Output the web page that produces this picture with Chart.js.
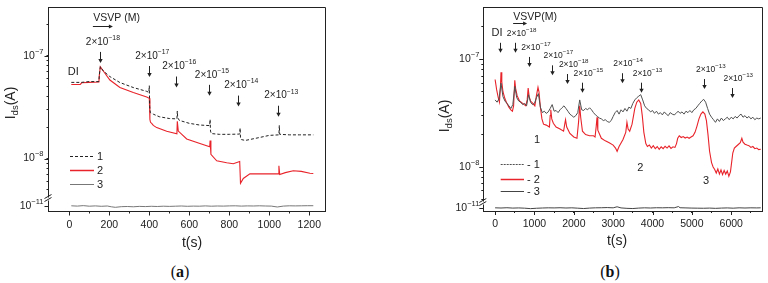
<!DOCTYPE html>
<html>
<head>
<meta charset="utf-8">
<script src="https://cdn.jsdelivr.net/npm/chart.js@4.4.0/dist/chart.umd.min.js"></script>
<style>
  body { margin: 0; background: #fff; width: 768px; height: 283px; overflow: hidden; position: relative; }
  .panel { position: absolute; top: 0; width: 384px; height: 258px; }
  .cap { position: absolute; top: 263px; width: 60px; text-align: center; color: #111;
         font: 16px 'Liberation Serif', 'DejaVu Serif', serif; }
</style>
</head>
<body>
<div class="panel" style="left:0"><canvas id="chartA" width="384" height="258"></canvas></div>
<div class="panel" style="left:384px"><canvas id="chartB" width="384" height="258"></canvas></div>
<div class="cap" style="left:150px">(<b>a</b>)</div>
<div class="cap" style="left:580px">(<b>b</b>)</div>
<script>
// ---------- panel (a) ----------
// [time s, current nA] for traces 1 and 2, [time s, current pA] for trace 3
const s1A = [[10,55],[60,55],[80,55.5],[100,56],[148,56],[150,65],[155,78],[170,71],[203,62.6],[253,54.8],
  [320,49],[387,45],[398,44],[400,51],[402,32],[405,28],[420,27],[450,25.5],[500,24.5],[538,24.3],
  [540,29],[542,25],[550,23.5],[600,22],[650,21.2],[702,20.9],[704,24],[706,18.5],[710,17.5],[750,17.2],
  [800,17.2],[852,17.3],[854,19.8],[856,16],[860,15.3],[880,15],[950,16],[1000,16.8],[1048,17],[1050,21],
  [1052,17.2],[1100,17],[1150,17],[1220,17]];
const s2A = [[10,52.5],[55,52.5],[62,54.5],[100,55],[148,55.5],[150,64],[155,78],[170,71],[203,58],[253,49],
  [320,43.8],[387,39.7],[400,38.5],[403,24],[406,22.5],[412,22],[420,21],[437,20],[487,18.4],[538,17.4],
  [540,23],[545,18.5],[587,15.5],[653,14],[702,13],[704,15],[708,11],[737,9.5],[787,9.1],[820,8.9],
  [852,9.35],[856,5.75],[870,6.4],[903,7.1],[987,7.1],[1046,7.1],[1048,8.5],[1052,7.0],[1080,7.3],[1120,7.6],
  [1160,7.5],[1203,7.2],[1220,7.15]];
const s3A = [[10,10.6],[40,10.3],[70,10.8],[100,10.2],[130,10.5],[160,10.1],[190,10.4],[210,9.6],[230,9.1],[260,9.7],
  [290,9.9],[320,9.6],[350,10.0],[380,9.8],[410,10.1],[440,9.9],[470,10.2],[500,10.0],[530,10.2],[560,10.4],
  [590,10.1],[620,10.3],[650,10.2],[680,10.5],[710,10.2],[740,10.4],[770,10.3],[800,10.5],[830,10.6],[860,10.3],
  [890,10.5],[920,10.4],[950,10.6],[980,10.4],[1010,10.3],[1040,9.4],[1070,10.3],[1100,10.6],[1130,10.5],[1160,10.6],
  [1190,10.7],[1220,10.7]];
const xTicksA = [0,100,200,300,400,500,600,700,800,900,1000,1100,1200];
const xLabelsA = [0,200,400,600,800,1000,1200];
const yTicksA = [5e-9,6e-9,7e-9,8e-9,9e-9,1e-8,2e-8,3e-8,4e-8,5e-8,6e-8,7e-8,8e-8,9e-8,1e-7,2e-7];
const yMajorA = [1e-8, 1e-7];
const arrowTA = [153, 400, 535, 698, 845, 1045];
const arrowTipA = [85, 62, 49, 40.7, 32, 25.5];   // nA
const arrowTextA = ['−18', '−17', '−16', '−15', '−14', '−13'];

// ---------- panel (b) ----------
const s1B = [[0,42],[50,40],[100,43],[150,60],[200,45],[250,41],[300,39],[350,37],[400,35],[450,38],
  [500,56],[550,44],[600,41],[650,40],[700,38],[750,39],[800,37],[850,47],[900,40],[950,38],
  [1000,39],[1050,44],[1100,48],[1150,36],[1200,32],[1250,33],[1300,31.5],[1350,32.5],[1400,35],[1450,38],
  [1500,33],[1550,33.5],[1600,32],[1650,34],[1700,35.5],[1750,37],[1800,35],[1850,33],[1900,31],[1950,30],
  [2000,29],[2050,30],[2100,32],[2150,42],[2200,34],[2250,33.5],[2300,35],[2350,34],[2400,35.5],[2450,34],
  [2500,32],[2550,30.5],[2600,29.5],[2650,28.5],[2700,28],[2750,27],[2800,27.5],[2850,26.5],[2900,26],[2950,27],
  [3000,29.5],[3050,32],[3100,33.5],[3150,31],[3200,34],[3250,32.5],[3300,35],[3350,33],[3400,36],[3450,35],
  [3500,39],[3550,42],[3600,44],[3650,45.5],[3700,47],[3750,42],[3800,37],[3850,35],[3900,34],[3950,32.5],
  [4000,33.5],[4050,31.5],[4100,33],[4150,31],[4200,32],[4250,30.5],[4300,32.5],[4350,31],[4400,30],[4450,32],
  [4500,31],[4550,30.5],[4600,31.5],[4650,33],[4700,31.5],[4750,32.5],[4800,31],[4850,33],[4900,32],[4950,33.5],
  [5000,32],[5050,34],[5100,35],[5150,37],[5200,39],[5250,41],[5300,42.5],[5350,40],[5400,35],[5450,31],
  [5500,29],[5550,27.5],[5600,26],[5650,28],[5700,26.5],[5750,28.5],[5800,27],[5850,28],[5900,29],[5950,27.5],
  [6000,29],[6050,28],[6100,29.5],[6150,28.5],[6200,30],[6250,31],[6300,29],[6350,30],[6400,28.5],[6450,29.5],
  [6500,28],[6550,29],[6600,27.5],[6650,28.5],[6700,28],[6750,28.5]];
const s2B = [[0,65],[40,52],[80,44],[110,40],[135,55],[150,76],[170,62],[200,50],[250,43],[300,39],
  [350,36],[400,34],[440,33],[470,37],[500,64],[520,54],[560,46],[620,41],[700,39],[780,37],
  [815,42],[840,54],[865,45],[900,41],[960,39],[1010,37],[1050,46],[1090,55],[1115,50],[1150,36],
  [1190,28],[1230,25],[1300,24.5],[1380,23.5],[1400,30],[1415,34],[1440,28],[1480,25.5],[1550,23.5],[1650,22.5],
  [1740,21.5],[1770,25],[1790,27.5],[1820,23.5],[1900,20.5],[2000,19],[2080,18.5],[2120,26],[2150,37],[2175,29],
  [2220,21.5],[2300,20],[2400,19.5],[2500,19.5],[2540,19],[2570,24],[2590,29],[2610,22],[2700,18.5],[2800,17.5],
  [2900,16.8],[3000,16],[3060,15],[3100,14],[3150,15.5],[3250,18],[3320,21],[3350,26],[3380,22.5],[3420,21.5],
  [3480,25],[3550,35],[3600,40],[3650,42],[3700,39],[3740,30],[3780,21],[3830,16.5],[3870,15.5],[3920,16],
  [3970,15],[4020,15.8],[4070,14.8],[4120,15.5],[4170,14.6],[4220,15.4],[4270,14.8],[4320,15.6],[4370,15],[4420,15.7],
  [4470,14.9],[4520,15.4],[4570,15.2],[4610,16.5],[4640,18.5],[4680,19.5],[4730,18.8],[4780,19.2],[4830,18.6],[4880,19],
  [4930,18.5],[4980,19],[5030,19.5],[5080,21],[5130,24],[5180,28],[5230,31],[5280,32.5],[5330,31],[5370,27],
  [5410,20],[5450,14],[5500,11],[5540,10],[5580,9.5],[5620,8.8],[5660,9.6],[5700,8.6],[5740,9.4],[5780,8.5],
  [5820,9.3],[5860,8.6],[5900,9.2],[5940,8.2],[5980,9],[6010,11],[6040,13.5],[6080,15],[6130,15.6],[6180,16.2],
  [6230,16.8],[6270,18.5],[6300,17],[6350,16.3],[6400,16],[6450,15.8],[6500,15.2],[6550,15.5],[6600,14.8],[6650,15],
  [6700,14.5],[6750,14.6]];
const s3B = [[0,10.2],[150,10],[300,10.3],[450,9.9],[600,10.1],[750,9.8],[900,9.3],[1050,9.7],[1200,10],[1350,10.2],
  [1500,10.1],[1650,10.3],[1800,10],[1950,10.2],[2100,9.8],[2250,9.4],[2400,9.9],[2550,10.2],[2700,10.3],[2850,10.5],
  [3000,10.2],[3100,11.5],[3200,10.1],[3350,9.6],[3500,9.4],[3650,9.9],[3800,10.2],[3950,10],[4100,10.3],[4250,10.2],
  [4400,10.4],[4550,10.2],[4660,11.8],[4700,10.3],[4850,10.1],[5000,9.9],[5150,9.8],[5300,9.7],[5450,9.9],[5600,9.6],
  [5750,9.9],[5900,10.1],[6050,9.8],[6200,10.2],[6350,10],[6500,10.2],[6650,10.1],[6750,10.2]];
const xTicksB = [0,500,1000,1500,2000,2500,3000,3500,4000,4500,5000,5500,6000,6500];
const xLabelsB = [0,1000,2000,3000,4000,5000,6000];
const yTicksB = [5e-9,6e-9,7e-9,8e-9,9e-9,1e-8,2e-8,3e-8,4e-8,5e-8,6e-8,7e-8,8e-8,9e-8,1e-7,2e-7];
const yMajorB = [1e-8, 1e-7];
const arrowTB = [127, 509, 873, 1443, 1832, 2206, 3214, 3707, 5318, 6013];
const arrowTipB = [115, 115, 85, 71, 59, 49, 60, 49, 53, 43.7];   // nA
const arrowTextB = ['DI', '−18', '−17', '−17', '−18', '−15', '−14', '−13', '−13', '−13'];

const yLowTicks = [1e-11];

const FONT = "'Liberation Sans', Arial, sans-serif";
const INK = '#222';
Chart.defaults.font.family = FONT;
Chart.defaults.color = INK;

function powText(ctx, x, y, base, exp, size, supSize, align) {
  ctx.font = size + 'px ' + FONT;
  const wb = ctx.measureText(base).width;
  ctx.font = supSize + 'px ' + FONT;
  const we = ctx.measureText(exp).width;
  const x0 = align === 'right' ? x - wb - we : x - (wb + we) / 2;
  ctx.textAlign = 'left';
  ctx.textBaseline = 'middle';
  ctx.font = size + 'px ' + FONT;
  ctx.fillText(base, x0, y);
  ctx.font = supSize + 'px ' + FONT;
  ctx.fillText(exp, x0 + wb, y - size * 0.4);
}

function yTitle(ctx, cx, cy, size) {
  ctx.save();
  ctx.translate(cx, cy);
  ctx.rotate(-Math.PI / 2);
  const sub = size * 0.68;
  ctx.font = size + 'px ' + FONT;
  const w1 = ctx.measureText('I').width, w3 = ctx.measureText('(A)').width;
  ctx.font = sub + 'px ' + FONT;
  const w2 = ctx.measureText('ds').width;
  let xx = -(w1 + w2 + w3) / 2;
  ctx.textAlign = 'left';
  ctx.textBaseline = 'middle';
  ctx.font = size + 'px ' + FONT;
  ctx.fillText('I', xx, 0);
  ctx.font = sub + 'px ' + FONT;
  ctx.fillText('ds', xx + w1, size * 0.3);
  ctx.font = size + 'px ' + FONT;
  ctx.fillText('(A)', xx + w1 + w2, 0);
  ctx.restore();
}

function downArrow(ctx, x, tip, len) {
  const px = Math.round(x) + 0.5;
  ctx.beginPath();
  ctx.moveTo(px, tip - len);
  ctx.lineTo(px, tip - 3);
  ctx.stroke();
  ctx.beginPath();
  ctx.moveTo(px - 2.2, tip - 4);
  ctx.lineTo(px + 2.2, tip - 4);
  ctx.lineTo(px, tip);
  ctx.closePath();
  ctx.fill();
}

function makeDeco(P) {
  return {
    id: 'deco',
    afterDraw(chart) {
      const { ctx, chartArea: a } = chart;
      const { x, y, yb } = chart.scales;
      ctx.save();
      ctx.strokeStyle = INK;
      ctx.fillStyle = INK;
      ctx.lineWidth = 1;

      // frame on top and right
      const T = Math.round(a.top) + 0.5, R = Math.round(a.right) - 0.5;
      ctx.beginPath();
      ctx.moveTo(a.left, T);
      ctx.lineTo(R, T);
      ctx.lineTo(R, a.bottom);
      ctx.stroke();

      // longer major ticks
      ctx.beginPath();
      P.xLabels.forEach(v => {
        const px = Math.round(x.getPixelForValue(v)) + 0.5;
        ctx.moveTo(px, a.bottom);
        ctx.lineTo(px, a.bottom + 4);
      });
      const majors = P.yMajor.map(v => [y, v]).concat(yLowTicks.map(v => [yb, v]));
      majors.forEach(([s, v]) => {
        const py = Math.round(s.getPixelForValue(v)) + 0.5;
        ctx.moveTo(a.left, py);
        ctx.lineTo(a.left - 4, py);
      });
      ctx.stroke();

      // y tick labels 10^n
      majors.forEach(([s, v]) => {
        const py = s.getPixelForValue(v);
        const e = '−' + Math.abs(Math.round(Math.log10(v)));
        powText(ctx, a.left - P.labGap, py, '10', e, 10.5, 7.5, 'right');
      });

      // axis break
      const yk = yb.top;
      ctx.fillStyle = '#fff';
      ctx.fillRect(a.left - 1.5, yk - 1.5, 3, 3);
      ctx.fillStyle = INK;
      ctx.beginPath();
      ctx.moveTo(a.left - 4, yk - 0.5);
      ctx.lineTo(a.left + 3, yk - 4.5);
      ctx.moveTo(a.left - 4, yk + 2.5);
      ctx.lineTo(a.left + 3, yk - 1.5);
      ctx.stroke();

      // axis titles
      yTitle(ctx, P.yTitle[0], P.yTitle[1], 14);
      ctx.font = '14px ' + FONT;
      ctx.textAlign = 'center';
      ctx.textBaseline = 'middle';
      ctx.fillText('t(s)', P.xTitle[0], P.xTitle[1]);

      // concentration arrows
      P.arrowT.forEach((t, i) => {
        const px = x.getPixelForValue(t);
        const tip = y.getPixelForValue(P.arrowTip[i] * 1e-9);
        downArrow(ctx, px, tip, P.arrowLen);
        const ty = tip - P.arrowLen - P.textGap;
        const lab = P.arrowText[i];
        if (lab === 'DI') {
          ctx.font = '11px ' + FONT;
          ctx.textAlign = 'center';
          ctx.fillText('DI', px - 3, ty);
        } else {
          powText(ctx, px + P.textDx, ty, '2×10', lab, P.annSize, P.annSup, 'center');
        }
      });

      // VSVP (M) label with arrow
      const vx = x.getPixelForValue(P.vsvp[0]), vy = y.getPixelForValue(P.vsvp[1] * 1e-9);
      ctx.font = '10.5px ' + FONT;
      ctx.textAlign = 'center';
      ctx.fillText(P.vsvpText, vx, vy);
      const ax1 = x.getPixelForValue(P.vsvpArrow[0]), ax2 = x.getPixelForValue(P.vsvpArrow[1]);
      const ay = Math.round(y.getPixelForValue(P.vsvpArrow[2] * 1e-9)) + 0.5;
      ctx.beginPath();
      ctx.moveTo(ax1, ay);
      ctx.lineTo(ax2 - 3, ay);
      ctx.stroke();
      ctx.beginPath();
      ctx.moveTo(ax2 - 4, ay - 2);
      ctx.lineTo(ax2 - 4, ay + 2);
      ctx.lineTo(ax2, ay);
      ctx.closePath();
      ctx.fill();

      // free text notes
      ctx.font = '11px ' + FONT;
      P.notes.forEach(([t, v, txt]) => {
        ctx.fillText(txt, x.getPixelForValue(t), y.getPixelForValue(v * 1e-9));
      });

      // legend
      chart.data.datasets.forEach((ds, i) => {
        const ly = Math.round(P.legend.rows[i]) + 0.5;
        ctx.save();
        ctx.strokeStyle = ds.borderColor;
        ctx.lineWidth = i === 1 ? 1.5 : 1;
        ctx.setLineDash(i === 0 ? P.legendDash : []);
        ctx.beginPath();
        ctx.moveTo(P.legend.x0, ly);
        ctx.lineTo(P.legend.x1, ly);
        ctx.stroke();
        ctx.restore();
        ctx.font = '11px ' + FONT;
        ctx.textAlign = 'left';
        ctx.fillText(ds.label, P.legend.tx, ly);
      });
      ctx.restore();
    }
  };
}

function build(id, P) {
  const grid = { drawOnChartArea: false, tickLength: 2, color: INK, tickColor: INK };
  const border = { color: INK, width: 1 };
  return new Chart(document.getElementById(id), {
    type: 'line',
    data: {
      datasets: [
        { label: P.names[0], data: P.s1.map(([t, v]) => ({ x: t, y: v * 1e-9 })),
          borderColor: P.c1, borderDash: P.dash1, borderWidth: 1, yAxisID: 'y' },
        { label: P.names[1], data: P.s2.map(([t, v]) => ({ x: t, y: v * 1e-9 })),
          borderColor: '#e8232a', borderWidth: 1.1, yAxisID: 'y' },
        { label: P.names[2], data: P.s3.map(([t, v]) => ({ x: t, y: v * 1e-12 })),
          borderColor: P.c3, borderWidth: 1, yAxisID: 'yb' }
      ]
    },
    options: {
      responsive: false,
      animation: false,
      devicePixelRatio: 1,
      layout: { padding: P.pad },
      elements: { point: { radius: 0 }, line: { tension: 0, fill: false } },
      plugins: { legend: { display: false }, tooltip: { enabled: false } },
      scales: {
        x: {
          type: 'linear', min: P.xMin, max: P.xMax,
          afterBuildTicks: s => { s.ticks = P.xTicks.map(v => ({ value: v })); },
          afterFit: s => { s.height = 20; },
          ticks: { autoSkip: false, maxRotation: 0, padding: 5, font: { size: 10.5 }, color: INK,
                   callback: v => (P.xLabels.includes(v) ? String(v) : '') },
          grid, border
        },
        yb: {
          type: 'logarithmic', position: 'left', stack: 'v', stackWeight: P.lowH,
          min: P.lowMin, max: P.lowMax,
          afterBuildTicks: s => { s.ticks = yLowTicks.map(v => ({ value: v })); },
          afterFit: s => { s.width = 30; },
          ticks: { display: false }, grid, border
        },
        y: {
          type: 'logarithmic', position: 'left', stack: 'v', stackWeight: P.upH,
          min: P.upMin, max: P.upMax,
          afterBuildTicks: s => { s.ticks = P.yTicks.map(v => ({ value: v })); },
          afterFit: s => { s.width = 30; },
          ticks: { display: false }, grid, border
        }
      }
    },
    plugins: [makeDeco(P)]
  });
}

build('chartA', {
  s1: s1A, s2: s2A, s3: s3A, names: ['1', '2', '3'],
  c1: '#222', dash1: [3, 2], legendDash: [3, 2], c3: '#777',
  pad: { left: 18.5, top: 7, right: 58.3, bottom: 26.5 },
  xMin: -104, xMax: 1282, xTicks: xTicksA, xLabels: xLabelsA,
  upMin: Math.pow(10, -8.393), upMax: Math.pow(10, -6.527), upH: 192, yTicks: yTicksA, yMajor: yMajorA,
  lowMin: Math.pow(10, -11.225), lowMax: Math.pow(10, -10.675), lowH: 12.5,
  labGap: 5, yTitle: [11, 103], xTitle: [192, 243],
  arrowT: arrowTA, arrowTip: arrowTipA, arrowText: arrowTextA,
  arrowLen: 11, textGap: 10, textDx: 3, annSize: 10, annSup: 6.8,
  vsvpText: 'VSVP (M)', vsvp: [237, 230], vsvpArrow: [118, 218, 194],
  notes: [[20, 70, 'DI']],
  legend: { x0: 70, x1: 94, tx: 97, rows: [155.5, 170, 183.5] }
});

build('chartB', {
  s1: s1B, s2: s2B, s3: s3B, names: ['- 1', '- 2', '- 3'],
  c1: '#505050', dash1: [], legendDash: [2, 1], c3: '#444',
  pad: { left: 69.3, top: 7, right: 5.3, bottom: 27 },
  xMin: -300, xMax: 6800, xTicks: xTicksB, xLabels: xLabelsB,
  upMin: Math.pow(10, -8.334), upMax: Math.pow(10, -6.514), upH: 196, yTicks: yTicksB, yMajor: yMajorB,
  lowMin: Math.pow(10, -11.15), lowMax: Math.pow(10, -10.75), lowH: 8,
  labGap: 4, yTitle: [61, 116], xTitle: [233, 241.5],
  arrowT: arrowTB, arrowTip: arrowTipB, arrowText: arrowTextB,
  arrowLen: 10, textGap: 9.5, textDx: 6.5, annSize: 8.5, annSup: 6.2,
  vsvpText: 'VSVP(M)', vsvp: [1018, 245], vsvpArrow: [458, 814, 217],
  notes: [[1069, 17.8, '1'], [3690, 9.8, '2'], [5361, 7.4, '3']],
  legend: { x0: 116.7, x1: 140, tx: 143, rows: [164, 179, 191] }
});
</script>
</body>
</html>
